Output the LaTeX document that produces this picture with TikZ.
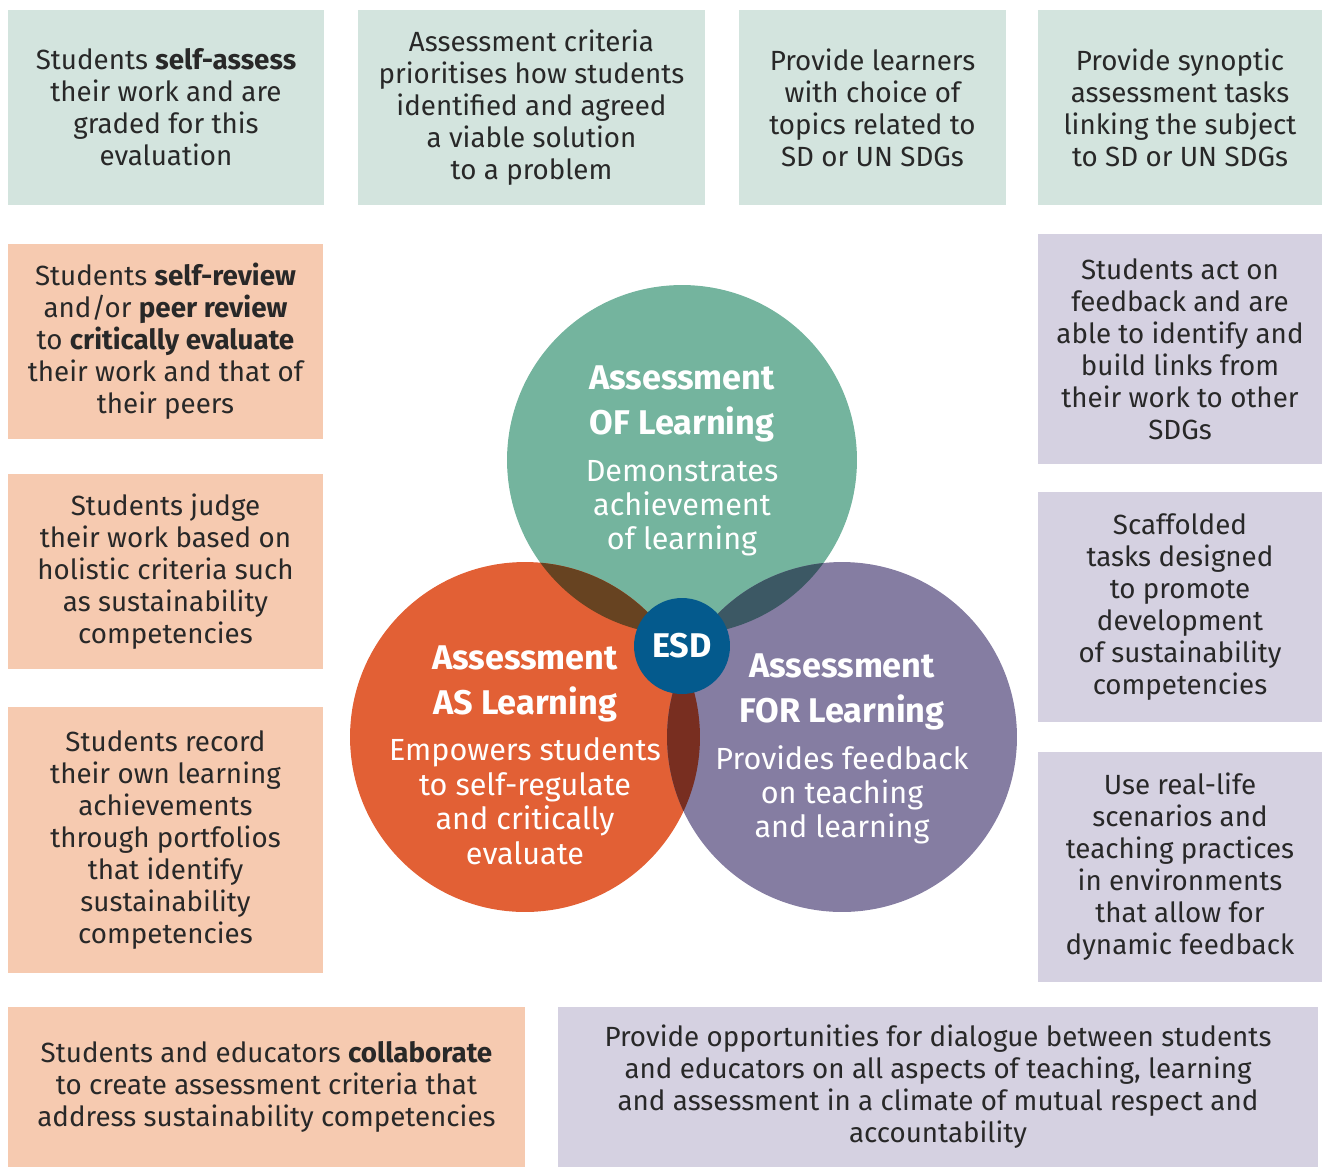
\documentclass[tikz,border=0pt]{standalone}
\usepackage{fontspec}
\setmainfont{Fira Sans}
\usepackage{tikz}

\definecolor{boxgreen}{RGB}{211,228,222}
\definecolor{boxpeach}{RGB}{246,202,176}
\definecolor{boxlilac}{RGB}{213,209,225}
\definecolor{ofgreen}{RGB}{116,180,158}
\definecolor{asorange}{RGB}{226,96,53}
\definecolor{forpurple}{RGB}{133,125,162}
\definecolor{ogmix}{RGB}{103,67,33}
\definecolor{gpmix}{RGB}{60,88,100}
\definecolor{opmix}{RGB}{120,46,32}
\definecolor{esdblue}{RGB}{4,90,141}
\definecolor{textgrey}{RGB}{40,40,40}
\newcommand{\ctitle}[1]{{\fontsize{19.5}{22}\selectfont\bfseries #1}}

\begin{document}
\begin{tikzpicture}[x=0.02cm,y=-0.02cm]
\tikzstyle{every node}+=[inner sep=0pt, align=center, font=\fontsize{15.8}{18.2}\selectfont]
\tikzstyle{gbox}=[fill=boxgreen, text=textgrey]
\tikzstyle{obox}=[fill=boxpeach, text=textgrey]
\tikzstyle{pbox}=[fill=boxlilac, text=textgrey]
\tikzstyle{ctext}=[text=white, font=\fontsize{17.4}{19.6}\selectfont]
\useasboundingbox (0,0) rectangle (1322,1167);
\node [gbox, minimum width=6.32cm, minimum height=3.9cm] (g1) at (166,107.5) {Students \textbf{self-assess}\\their work and are\\graded for this\\evaluation};
\node [gbox, minimum width=6.94cm, minimum height=3.9cm] (g2) at (531.5,107.5) {Assessment criteria\\prioritises how students\\identified and agreed\\a viable solution\\to a problem};
\node [gbox, minimum width=5.34cm, minimum height=3.9cm] (g3) at (872.5,107.5) {Provide learners\\with choice of\\topics related to\\SD or UN SDGs};
\node [gbox, minimum width=5.68cm, minimum height=3.9cm] (g4) at (1180,107.5) {Provide synoptic\\assessment tasks\\linking the subject\\to SD or UN SDGs};
\node [obox, minimum width=6.3cm, minimum height=3.9cm] (o1) at (165.5,341.5) {Students \textbf{self-review}\\and/or \textbf{peer review}\\to \textbf{critically evaluate}\\their work and that of\\their peers};
\node [obox, minimum width=6.3cm, minimum height=3.9cm] (o2) at (165.5,571.5) {Students judge\\their work based on\\holistic criteria such\\as sustainability\\competencies};
\node [obox, minimum width=6.3cm, minimum height=5.32cm] (o3) at (165.5,840) {Students record\\their own learning\\achievements\\through portfolios\\that identify\\sustainability\\competencies};
\node [obox, minimum width=10.34cm, minimum height=3.2cm] (o4) at (266.5,1087) {Students and educators \textbf{collaborate}\\to create assessment criteria that\\address sustainability competencies};
\node [pbox, minimum width=5.68cm, minimum height=4.6cm] (p1) at (1180,349) {Students act on\\feedback and are\\able to identify and\\build links from\\their work to other\\SDGs};
\node [pbox, minimum width=5.68cm, minimum height=4.6cm] (p2) at (1180,607) {Scaffolded\\tasks designed\\to promote\\development\\of sustainability\\competencies};
\node [pbox, minimum width=5.68cm, minimum height=4.6cm] (p3) at (1180,867) {Use real-life\\scenarios and\\teaching practices\\in environments\\that allow for\\dynamic feedback};
\node [pbox, minimum width=15.2cm, minimum height=3.2cm] (p4) at (938,1087) {Provide opportunities for dialogue between students\\and educators on all aspects of teaching, learning\\and assessment in a climate of mutual respect and\\accountability};
\coordinate (cof) at (682,460);
\coordinate (cas) at (525,737);
\coordinate (cfor) at (842,737);
\fill [ofgreen] (cof) circle [radius=3.5cm];
\fill [asorange] (cas) circle [radius=3.5cm];
\fill [forpurple] (cfor) circle [radius=3.5cm];
\begin{scope}
\clip (cof) circle [radius=3.5cm];
\fill [ogmix] (cas) circle [radius=3.5cm];
\fill [gpmix] (cfor) circle [radius=3.5cm];
\end{scope}
\begin{scope}
\clip (cas) circle [radius=3.5cm];
\fill [opmix] (cfor) circle [radius=3.5cm];
\end{scope}
\node [ctext] (of) at (682,461) {\ctitle{Assessment}\\[6pt]\ctitle{OF Learning}\\[7pt]Demonstrates\\achievement\\of learning};
\node [ctext] (as) at (525,755) {\ctitle{Assessment}\\[6pt]\ctitle{AS Learning}\\[7pt]Empowers students\\to self-regulate\\and critically\\evaluate};
\node [ctext] (for) at (842,749) {\ctitle{Assessment}\\[6pt]\ctitle{FOR Learning}\\[7pt]Provides feedback\\on teaching\\and learning};
\node [circle, fill=esdblue, text=white, minimum size=1.92cm, font=\fontsize{19.5}{22}\selectfont\bfseries] (esd) at (682,646) {ESD};
\end{tikzpicture}
\end{document}
